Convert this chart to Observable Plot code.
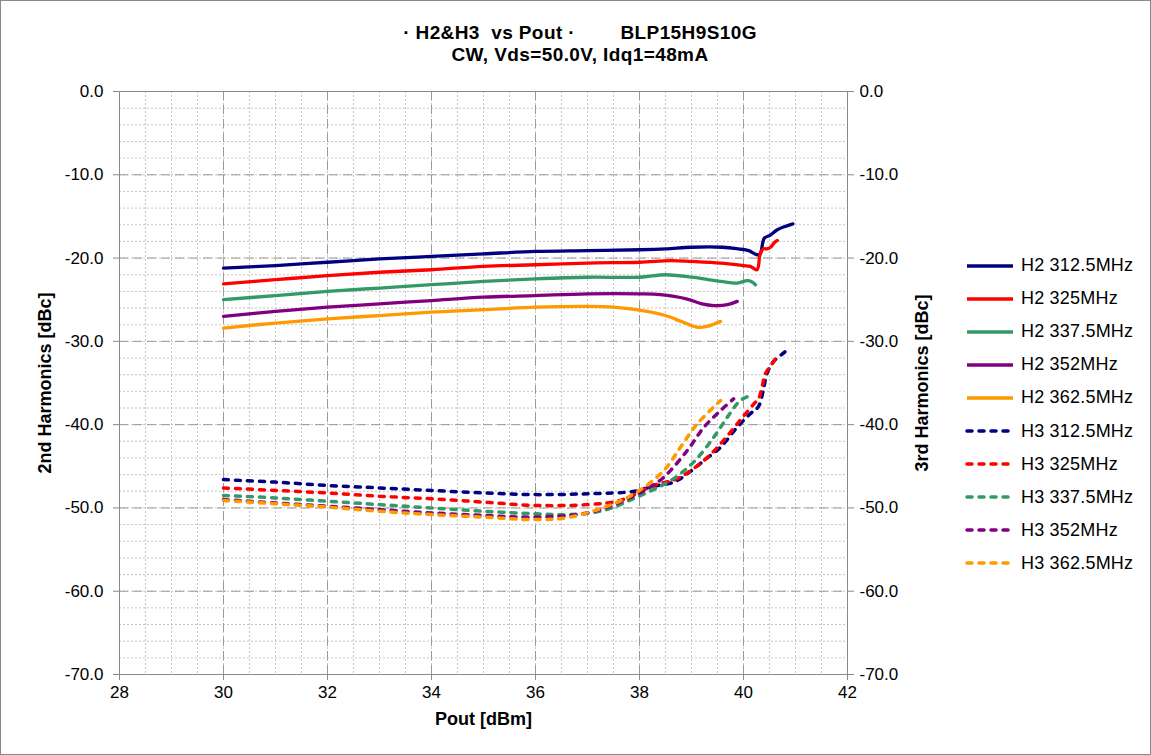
<!DOCTYPE html>
<html>
<head>
<meta charset="utf-8">
<script src="https://cdn.jsdelivr.net/npm/d3@7"></script>
<script src="https://cdn.jsdelivr.net/npm/@observablehq/plot@0.6"></script>
<style>
  html, body { margin: 0; padding: 0; background: #fff; }
  #chart { position: relative; width: 1151px; height: 755px; overflow: hidden;
           font-family: "Liberation Sans", Arial, sans-serif; color: #000; }
  #border { position: absolute; inset: 0; border: 1px solid #8a8a8a; pointer-events: none; }
  #title { position: absolute; left: 280px; width: 600px; top: 22px; text-align: center;
           font-weight: bold; font-size: 19px; line-height: 22px; letter-spacing: 0.4px; white-space: pre; }
  #plot { position: absolute; left: 0; top: 70px; }
  #legend { position: absolute; left: 965px; top: 249px; font-size: 18px; letter-spacing: 0.2px; }
  #legend .row { height: 33.1px; display: flex; align-items: center; white-space: nowrap; }
  #legend svg { margin-right: 6px; }
  #plot svg g[aria-label$="axis tick label"] text { font-family: "Liberation Sans Narrow", "Liberation Sans", Arial, sans-serif; }
</style>
</head>
<body>
<div id="chart">
  <div id="title"></div>
  <div id="plot"></div>
  <div id="legend"></div>
  <div id="border"></div>
</div>
<script>
// Title lines
const titleLines = ["· H2&H3  vs Pout ·        BLP15H9S10G", "CW, Vds=50.0V, Idq1=48mA"];

// Series names, in legend order
const seriesNames = [
  "H2 312.5MHz", "H2 325MHz", "H2 337.5MHz", "H2 352MHz", "H2 362.5MHz",
  "H3 312.5MHz", "H3 325MHz", "H3 337.5MHz", "H3 352MHz", "H3 362.5MHz"
];

// 2nd harmonic, Pout [dBm] and level [dBc]
const poutH2_3125 = [30, 31, 32, 33, 34, 35, 36, 37, 38, 38.5, 39, 39.6, 39.9, 40.1, 40.26, 40.32, 40.4, 40.5, 40.65, 40.8, 40.95];
const h2_3125     = [-21.2, -20.9, -20.5, -20.1, -19.8, -19.5, -19.2, -19.1, -19.0, -18.9, -18.7, -18.7, -18.9, -19.1, -19.6, -19.5, -17.6, -17.3, -16.6, -16.2, -15.9];

const poutH2_325 = [30, 31, 32, 33, 34, 35, 36, 37, 38, 38.6, 39, 39.56, 40, 40.13, 40.26, 40.32, 40.38, 40.45, 40.52, 40.6, 40.65];
const h2_325     = [-23.1, -22.6, -22.1, -21.7, -21.4, -21.0, -20.8, -20.6, -20.5, -20.3, -20.4, -20.6, -20.9, -21.0, -21.4, -19.5, -18.9, -18.9, -18.7, -18.1, -17.9];

const poutH2_3375 = [30, 31, 32, 33, 34, 35, 36, 37, 38, 38.5, 39, 39.56, 39.88, 40.07, 40.15, 40.23];
const h2_3375     = [-25.0, -24.5, -24.0, -23.6, -23.2, -22.8, -22.5, -22.3, -22.3, -22.0, -22.3, -22.8, -23.0, -22.7, -22.8, -23.2];

const poutH2_352 = [30, 31, 32, 33, 34, 35, 36, 37, 38, 38.4, 38.9, 39.2, 39.43, 39.69, 39.88];
const h2_352     = [-27.0, -26.4, -25.9, -25.5, -25.1, -24.7, -24.5, -24.3, -24.3, -24.4, -24.9, -25.5, -25.7, -25.6, -25.2];

const poutH2_3625 = [30, 31, 32, 33, 34, 35, 36, 37, 37.5, 38.15, 38.5, 38.8, 39.1, 39.3, 39.56];
const h2_3625     = [-28.4, -27.8, -27.3, -26.9, -26.5, -26.2, -25.9, -25.8, -25.9, -26.4, -26.9, -27.6, -28.3, -28.2, -27.6];

// 3rd harmonic, Pout [dBm] and level [dBc]
const poutH3_3125 = [30, 31, 32, 33, 34, 35, 36, 37, 37.9, 38.27, 38.66, 38.92, 39.24, 39.56, 39.88, 40.13, 40.29, 40.38, 40.45, 40.58, 40.75, 40.9];
const h3_3125     = [-46.6, -46.9, -47.3, -47.6, -47.9, -48.2, -48.4, -48.3, -48.0, -47.4, -46.9, -45.9, -44.3, -42.7, -40.3, -38.7, -37.8, -35.9, -33.9, -32.4, -31.5, -30.7];

const poutH3_325 = [30, 31, 32, 33, 34, 35, 36, 37, 37.63, 38.27, 38.72, 39.24, 39.56, 39.88, 40.2, 40.29, 40.37, 40.42, 40.55, 40.65];
const h3_325     = [-47.6, -47.9, -48.2, -48.6, -48.9, -49.3, -49.7, -49.6, -49.1, -47.3, -46.5, -44.3, -42.3, -39.9, -37.5, -36.9, -35.1, -33.9, -32.7, -31.7];

const poutH3_3375 = [30, 31, 32, 33, 34, 35, 36, 36.67, 37.31, 37.95, 38.6, 39.04, 39.43, 39.69, 39.94, 40.13];
const h3_3375     = [-48.5, -48.8, -49.2, -49.6, -50.0, -50.4, -50.7, -50.8, -50.3, -48.7, -46.7, -44.5, -41.5, -39.1, -37.1, -36.5];

const poutH3_352 = [30, 31, 32, 33, 34, 35, 36, 37, 37.63, 38.15, 38.47, 38.92, 39.24, 39.56, 39.81];
const h3_352     = [-49.0, -49.4, -49.8, -50.2, -50.6, -50.9, -51.1, -50.6, -49.3, -47.7, -46.3, -43.1, -40.3, -38.3, -36.9];

const poutH3_3625 = [30, 31, 32, 33, 34, 35, 36, 36.67, 37.5, 37.95, 38.47, 38.79, 39.11, 39.56];
const h3_3625     = [-49.1, -49.5, -49.9, -50.4, -50.8, -51.1, -51.4, -51.1, -49.5, -48.1, -45.5, -42.7, -39.9, -37.1];

// Axis ticks
const xTicks = [28, 30, 32, 34, 36, 38, 40, 42];
const yTicks = [0, -10, -20, -30, -40, -50, -60, -70];

// Line colours per frequency (H2 and H3 share them)
const seriesColors = ["#000080", "#ff0000", "#339966", "#800080", "#ff9900",
                      "#000080", "#ff0000", "#339966", "#800080", "#ff9900"];

// Assemble long-format rows for Plot
const seriesSources = [
  [poutH2_3125, h2_3125], [poutH2_325, h2_325], [poutH2_3375, h2_3375], [poutH2_352, h2_352], [poutH2_3625, h2_3625],
  [poutH3_3125, h3_3125], [poutH3_325, h3_325], [poutH3_3375, h3_3375], [poutH3_352, h3_352], [poutH3_3625, h3_3625]
];
const rows = seriesSources.flatMap(([xs, ys], i) =>
  xs.map((x, j) => ({series: seriesNames[i], harmonic: seriesNames[i].slice(0, 2), pout: x, dbc: ys[j]})));
const h2Rows = rows.filter(d => d.harmonic === "H2");
const h3Rows = rows.filter(d => d.harmonic === "H3");

const fmt = d => d.toFixed(1);
const minorX = d3.range(56, 85).map(d => d / 2);
const minorY = d3.range(-70, 1, 2);

const gridColor = "#c4c4c4";
const majorColor = "#9a9a9a";
const axisColor = "#8a8a8a";

const chart = Plot.plot({
  width: 1151,
  height: 685,
  marginLeft: 119,
  marginRight: 304,
  marginTop: 21,
  marginBottom: 81,
  style: {fontFamily: "'Liberation Sans', Arial, sans-serif", fontSize: "17px", color: "#000", background: "transparent"},
  x: {domain: [28, 42], label: null},
  y: {domain: [-70, 0], label: null},
  color: {domain: seriesNames, range: seriesColors},
  marks: [
    // minor grid
    Plot.gridX(minorX, {stroke: gridColor, strokeOpacity: 1, strokeDasharray: "2,2"}),
    Plot.gridY(minorY, {stroke: gridColor, strokeOpacity: 1, strokeDasharray: "2,2"}),
    // major grid
    Plot.gridX(xTicks, {stroke: majorColor, strokeOpacity: 1, strokeDasharray: "9,5"}),
    Plot.gridY(yTicks, {stroke: majorColor, strokeOpacity: 1, strokeDasharray: "9,5"}),
    Plot.frame({stroke: axisColor}),
    // axes
    Plot.axisX({ticks: xTicks, tickFormat: d => String(d), tickSize: 6, tickPadding: 5, stroke: axisColor, label: null}),
    Plot.axisY({anchor: "left", ticks: yTicks, tickFormat: fmt, tickSize: 6, tickPadding: 10, stroke: axisColor, label: null}),
    Plot.axisY({anchor: "right", ticks: yTicks, tickFormat: fmt, tickSize: 6, tickPadding: 6, stroke: axisColor, label: null}),
    // axis titles
    Plot.text(["Pout [dBm]"], {frameAnchor: "bottom", dy: 50, fontWeight: "bold", fontSize: 18}),
    Plot.text(["2nd Harmonics [dBc]"], {frameAnchor: "left", rotate: -90, dx: -74, textAnchor: "middle", fontWeight: "bold", fontSize: 18}),
    Plot.text(["3rd Harmonics [dBc]"], {frameAnchor: "right", rotate: -90, dx: 75, textAnchor: "middle", fontWeight: "bold", fontSize: 18}),
    // 2nd harmonic: solid lines
    Plot.line(h2Rows, {x: "pout", y: "dbc", z: "series", stroke: "series", strokeWidth: 3.3, curve: "catmull-rom"}),
    // 3rd harmonic: dashed lines
    Plot.line(h3Rows, {x: "pout", y: "dbc", z: "series", stroke: "series", strokeWidth: 3.5,
                       strokeDasharray: "5,7", strokeLinecap: "round", curve: "catmull-rom"})
  ]
});
document.getElementById("plot").appendChild(chart);

document.getElementById("title").innerHTML = titleLines.map(t => `<div>${t.replace(/&/g, "&amp;")}</div>`).join("");

// Legend
const legend = document.getElementById("legend");
seriesNames.forEach((name, i) => {
  const dashed = name.startsWith("H3");
  const row = document.createElement("div");
  row.className = "row";
  row.innerHTML = `<svg width="50" height="10"><line x1="2" x2="48" y1="5" y2="5" stroke="${seriesColors[i]}" stroke-width="${dashed ? 3.5 : 3.3}" ${dashed ? 'stroke-dasharray="5,7" stroke-linecap="round"' : ''}/></svg><span>${name}</span>`;
  legend.appendChild(row);
});
</script>
</body>
</html>
